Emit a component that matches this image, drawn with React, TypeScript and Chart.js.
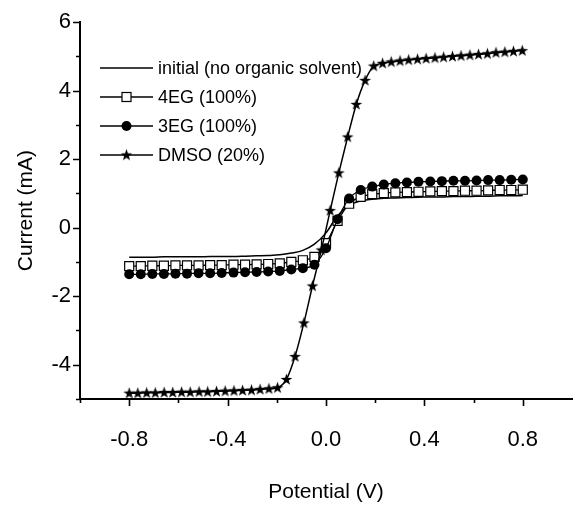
import React, { useEffect, useRef } from "react";
import { Chart, registerables } from "chart.js";

Chart.register(...registerables);

// ---- data ----
const EG_V = [
  -0.8, -0.753, -0.706, -0.659, -0.612, -0.565, -0.518, -0.471, -0.424, -0.376,
  -0.329, -0.282, -0.235, -0.188, -0.141, -0.094, -0.047, 0.0, 0.047, 0.094,
  0.141, 0.188, 0.235, 0.282, 0.329, 0.376, 0.424, 0.471, 0.518, 0.565,
  0.612, 0.659, 0.706, 0.753, 0.8,
];
const INITIAL_I = [
  -0.86, -0.86, -0.86, -0.85, -0.85, -0.85, -0.85, -0.84, -0.84, -0.84,
  -0.83, -0.82, -0.81, -0.79, -0.74, -0.66, -0.48, -0.15, 0.35, 0.65,
  0.78, 0.83, 0.86, 0.87, 0.88, 0.89, 0.9, 0.9, 0.91, 0.91,
  0.92, 0.92, 0.93, 0.93, 0.94,
];
const EG4_I = [
  -1.12, -1.12, -1.11, -1.11, -1.1, -1.1, -1.1, -1.09, -1.09, -1.08,
  -1.08, -1.07, -1.06, -1.04, -1.0, -0.95, -0.85, -0.45, 0.2, 0.7,
  0.9, 0.98, 1.01, 1.03, 1.04, 1.05, 1.06, 1.07, 1.07, 1.08,
  1.08, 1.09, 1.1, 1.1, 1.11,
];
const EG3_I = [
  -1.36, -1.36, -1.35, -1.35, -1.34, -1.34, -1.33, -1.33, -1.32, -1.31,
  -1.3, -1.29, -1.28, -1.26, -1.22, -1.18, -1.08, -0.6, 0.25, 0.85,
  1.1, 1.2, 1.26, 1.3, 1.32, 1.34, 1.35, 1.36, 1.37, 1.37,
  1.38, 1.39, 1.39, 1.4, 1.41,
];
const DMSO_V = [
  -0.8, -0.765, -0.729, -0.694, -0.658, -0.623, -0.587, -0.552, -0.516, -0.481,
  -0.445, -0.41, -0.374, -0.339, -0.303, -0.268, -0.232, -0.197, -0.161, -0.126,
  -0.09, -0.055, -0.019, 0.017, 0.052, 0.088, 0.123, 0.159, 0.194, 0.23,
  0.265, 0.301, 0.336, 0.372, 0.407, 0.443, 0.478, 0.514, 0.549, 0.585,
  0.62, 0.656, 0.691, 0.727, 0.762, 0.798,
];
const DMSO_I = [
  -4.83, -4.83, -4.82, -4.82, -4.81, -4.81, -4.8, -4.8, -4.79, -4.79,
  -4.78, -4.77, -4.76, -4.75, -4.74, -4.72, -4.7, -4.67, -4.43, -3.76,
  -2.78, -1.7, -0.65, 0.5, 1.6, 2.65, 3.6, 4.3, 4.72, 4.8,
  4.84, 4.87, 4.9, 4.92, 4.94, 4.96, 4.98, 5.0, 5.02, 5.04,
  5.06, 5.08, 5.11, 5.13, 5.15, 5.17,
];

const SERIES_LABELS = ["initial (no organic solvent)", "4EG (100%)", "3EG (100%)", "DMSO (20%)"];
const X_MAJOR = [-0.8, -0.4, 0.0, 0.4, 0.8];
const X_MINOR = [-1.0, -0.6, -0.2, 0.2, 0.6];
const Y_MAJOR = [-4, -2, 0, 2, 4, 6];
const Y_MINOR = [-5, -3, -1, 1, 3, 5];
const X_TITLE = "Potential (V)";
const Y_TITLE = "Current (mA)";

const FONT = "'Liberation Sans', Arial, sans-serif";

function makeStar(): HTMLCanvasElement {
  const c = document.createElement("canvas");
  c.width = 13;
  c.height = 13;
  const g = c.getContext("2d")!;
  g.fillStyle = "#000";
  g.beginPath();
  const cx = 6.5, cy = 6.8, ro = 6.2, ri = 2.4;
  for (let k = 0; k < 10; k++) {
    const r = k % 2 === 0 ? ro : ri;
    const a = -Math.PI / 2 + (k * Math.PI) / 5;
    const px = cx + r * Math.cos(a);
    const py = cy + r * Math.sin(a);
    if (k === 0) g.moveTo(px, py);
    else g.lineTo(px, py);
  }
  g.closePath();
  g.fill();
  return c;
}

export default function App() {
  const ref = useRef<HTMLCanvasElement | null>(null);

  useEffect(() => {
    if (!ref.current) return;
    const star = makeStar();
    const pts = (xs: number[], ys: number[]) => xs.map((x, i) => ({ x, y: ys[i] }));

    const markerKinds = ["none", "rect", "circle", "star"];

    const drawMarker = (ctx: CanvasRenderingContext2D, kind: string, x: number, y: number) => {
      ctx.save();
      ctx.strokeStyle = "#000";
      ctx.lineWidth = 1.2;
      if (kind === "rect") {
        ctx.fillStyle = "#fff";
        ctx.fillRect(x - 4.5, y - 4.5, 9, 9);
        ctx.strokeRect(x - 4.5, y - 4.5, 9, 9);
      } else if (kind === "circle") {
        ctx.fillStyle = "#000";
        ctx.beginPath();
        ctx.arc(x, y, 5, 0, Math.PI * 2);
        ctx.fill();
      } else if (kind === "star") {
        ctx.drawImage(star, x - 6.5, y - 6.5);
      }
      ctx.restore();
    };

    const plugin = {
      id: "customAxesLegend",
      afterDraw(chart: any) {
        const ctx: CanvasRenderingContext2D = chart.ctx;
        const xs = chart.scales.x;
        const ys = chart.scales.y;
        const a = chart.chartArea;
        ctx.save();
        ctx.strokeStyle = "#000";
        ctx.lineWidth = 1.6;
        ctx.beginPath();
        X_MAJOR.forEach((v) => {
          const p = Math.round(xs.getPixelForValue(v)) + 0.5;
          ctx.moveTo(p, a.bottom);
          ctx.lineTo(p, a.bottom + 7);
        });
        X_MINOR.forEach((v) => {
          const p = Math.round(xs.getPixelForValue(v)) + 0.5;
          ctx.moveTo(p, a.bottom);
          ctx.lineTo(p, a.bottom + 4);
        });
        Y_MAJOR.forEach((v) => {
          const p = Math.round(ys.getPixelForValue(v)) + 0.5;
          ctx.moveTo(a.left, p);
          ctx.lineTo(a.left - 7, p);
        });
        Y_MINOR.forEach((v) => {
          const p = Math.round(ys.getPixelForValue(v)) + 0.5;
          ctx.moveTo(a.left, p);
          ctx.lineTo(a.left - 4, p);
        });
        ctx.stroke();

        // legend
        const lx1 = 100, lx2 = 153, tx = 158;
        const ly = [68, 97, 126, 155];
        ctx.font = `18px ${FONT}`;
        ctx.textBaseline = "middle";
        SERIES_LABELS.forEach((label, i) => {
          ctx.lineWidth = 1.5;
          ctx.beginPath();
          ctx.moveTo(lx1, ly[i]);
          ctx.lineTo(lx2, ly[i]);
          ctx.stroke();
          drawMarker(ctx, markerKinds[i], (lx1 + lx2) / 2, ly[i]);
          ctx.fillStyle = "#000";
          ctx.fillText(label, tx, ly[i] + 1);
        });
        ctx.restore();
      },
    };

    const chart = new Chart(ref.current, {
      type: "line",
      data: {
        datasets: [
          {
            label: SERIES_LABELS[0],
            data: pts(EG_V, INITIAL_I),
            borderColor: "#000",
            borderWidth: 1.5,
            pointRadius: 0,
            cubicInterpolationMode: "monotone",
            order: 4,
          },
          {
            label: SERIES_LABELS[1],
            data: pts(EG_V, EG4_I),
            borderColor: "#000",
            borderWidth: 1.3,
            pointStyle: "rect",
            pointRadius: 6.4,
            pointBorderWidth: 1.2,
            pointBackgroundColor: "#fff",
            pointBorderColor: "#000",
            cubicInterpolationMode: "monotone",
            order: 3,
          },
          {
            label: SERIES_LABELS[2],
            data: pts(EG_V, EG3_I),
            borderColor: "#000",
            borderWidth: 1.3,
            pointStyle: "circle",
            pointRadius: 5,
            pointBorderWidth: 0,
            pointBackgroundColor: "#000",
            pointBorderColor: "#000",
            cubicInterpolationMode: "monotone",
            order: 2,
          },
          {
            label: SERIES_LABELS[3],
            data: pts(DMSO_V, DMSO_I),
            borderColor: "#000",
            borderWidth: 1.5,
            pointStyle: star as any,
            pointRadius: 6,
            cubicInterpolationMode: "monotone",
            order: 1,
          },
        ],
      },
      options: {
        animation: false,
        responsive: false,
        maintainAspectRatio: false,
        events: [],
        layout: { padding: { left: 0, right: 12, top: 22, bottom: 0 } },
        plugins: {
          legend: { display: false },
          tooltip: { enabled: false },
        },
        scales: {
          x: {
            type: "linear",
            min: -1.0,
            max: 1.0,
            afterBuildTicks: (s: any) => {
              s.ticks = X_MAJOR.map((v) => ({ value: v }));
            },
            afterFit: (s: any) => {
              s.height = 112;
            },
            grid: { display: false, drawTicks: false },
            border: { display: true, color: "#000", width: 2 },
            ticks: {
              color: "#000",
              font: { family: FONT, size: 22 },
              padding: 28,
              maxRotation: 0,
              callback: (v: any) => Number(v).toFixed(1),
            },
            title: {
              display: true,
              text: X_TITLE,
              color: "#000",
              font: { family: FONT, size: 21 },
              padding: { top: 0, bottom: 6 },
            },
          },
          y: {
            type: "linear",
            min: -5,
            max: 6,
            afterBuildTicks: (s: any) => {
              s.ticks = Y_MAJOR.map((v) => ({ value: v }));
            },
            afterFit: (s: any) => {
              s.width = 80;
            },
            grid: { display: false, drawTicks: false },
            border: { display: true, color: "#000", width: 2 },
            ticks: {
              color: "#000",
              font: { family: FONT, size: 22 },
              padding: 9,
              callback: (v: any) => String(v),
            },
            title: {
              display: true,
              text: Y_TITLE,
              color: "#000",
              font: { family: FONT, size: 21 },
              padding: { top: 14, bottom: 0 },
            },
          },
        },
      },
      plugins: [plugin],
    } as any);

    return () => chart.destroy();
  }, []);

  return (
    <div style={{ position: "fixed", left: 0, top: 0, width: 584, height: 511, background: "#fff" }}>
      <canvas ref={ref} width={584} height={511} style={{ width: 584, height: 511, display: "block" }} />
    </div>
  );
}
